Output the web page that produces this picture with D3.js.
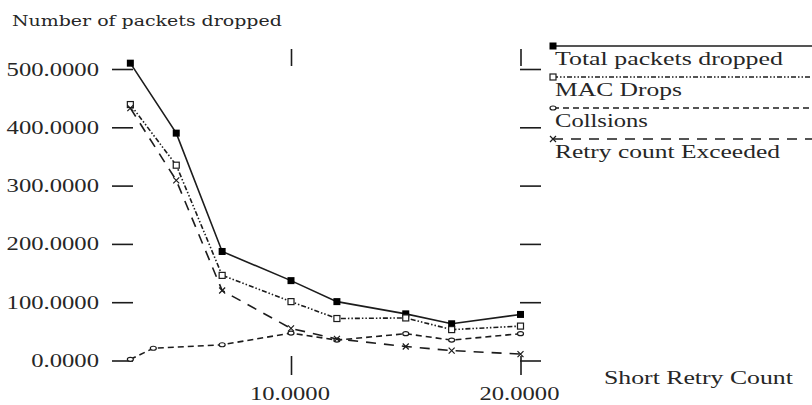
<!DOCTYPE html>
<html>
<head>
<meta charset="utf-8">
<script src="https://cdn.jsdelivr.net/npm/d3@7"></script>
<style>
  html, body { margin: 0; padding: 0; background: #fff; }
</style>
</head>
<body>
<svg id="draw" width="812" height="405"></svg>
<script>
// values
let xShort = [3, 5, 7, 10, 12, 15, 17, 20];
let xColl = [3, 4, 7, 10, 12, 15, 17, 20];
let totalDropped = [510, 390, 187, 137, 101, 80, 63, 79];
let macDrops = [439, 335, 146, 101, 72, 73, 53, 59];
let collisions = [2, 21, 27, 47, 35, 46, 35, 46];
let retryExceeded = [433, 309, 120, 55, 37, 24, 17, 11];
let yTicks = [0, 100, 200, 300, 400, 500];
let xTicks = [10, 20];
let seriesNames = ["Total packets dropped", "MAC Drops", "Collsions", "Retry count Exceeded"];

let ink = "#1c1c1c";
let serif = "'Liberation Serif', Tinos, 'DejaVu Serif', 'Noto Serif', FreeSerif, 'Times New Roman', Times, serif";
let svg = d3.select("#draw");

let x = d3.scaleLinear().domain([10, 20]).range([291, 520.5]);
let y = d3.scaleLinear().domain([0, 500]).range([360.5, 69]);

// stretched serif text, scaled horizontally to the wanted width
function label(px, py, txt, w, anchor, size, family) {
    let g = svg.append("g");
    let t = g.append("text")
        .attr("text-anchor", anchor || "start")
        .attr("font-family", family || serif)
        .attr("font-size", size || 19)
        .attr("fill", "#262626")
        .text(txt);
    let k = w / t.node().getComputedTextLength();
    g.attr("transform", "translate(" + px + "," + py + ") scale(" + k + ",1)");
    return t;
}

// axes, ticks only
function tickAxis(axis, tf) {
    let g = svg.append("g").attr("transform", tf).call(axis);
    g.select(".domain").remove();
    g.selectAll("line").attr("stroke", ink).attr("stroke-width", 1.6);
    g.selectAll("text").remove();
}
tickAxis(d3.axisLeft(y).tickValues(yTicks).tickSize(21).tickFormat(""), "translate(133,0)");
tickAxis(d3.axisRight(y).tickValues(yTicks).tickSize(21).tickFormat(""), "translate(520,0)");
tickAxis(d3.axisBottom(x).tickValues(xTicks).tickSize(19).tickFormat(""), "translate(0,356)");
tickAxis(d3.axisTop(x).tickValues(xTicks).tickSize(17).tickFormat(""), "translate(0,66)");

yTicks.forEach(v => {
    let s = d3.format(".4f")(v);
    label(99, y(v) + 6.5, s, s.length * 12.3 - 6, "end");
});
xTicks.forEach(v => {
    let s = d3.format(".4f")(v);
    label(x(v) - 1, 400, s, 80, "middle");
});

label(12, 26, "Number of packets dropped", 270, "start", 15, "'DejaVu Serif', " + serif);
label(604, 384, "Short Retry Count", 189, "start");

let series = [
    { name: seriesNames[0], xs: xShort, ys: totalDropped, dash: null, marker: "fsquare" },
    { name: seriesNames[1], xs: xShort, ys: macDrops, dash: "5,2,1.5,2,1.5,2", marker: "osquare" },
    { name: seriesNames[2], xs: xColl, ys: collisions, dash: "6,4", marker: "circle" },
    { name: seriesNames[3], xs: xShort, ys: retryExceeded, dash: "10,8", marker: "cross" }
];

let line = d3.line().x(d => x(d[0])).y(d => y(d[1]));

function marker(g, type, cx, cy) {
    if(type == "fsquare")
        g.append("rect").attr("x", cx - 3.5).attr("y", cy - 3.5).attr("width", 7).attr("height", 7)
            .attr("fill", "#000");
    else if(type == "osquare")
        g.append("rect").attr("x", cx - 3).attr("y", cy - 3).attr("width", 6).attr("height", 6)
            .attr("fill", "#fff").attr("stroke", ink).attr("stroke-width", 1.2);
    else if(type == "circle")
        g.append("ellipse").attr("cx", cx).attr("cy", cy).attr("rx", 3).attr("ry", 2)
            .attr("fill", "#fff").attr("stroke", ink).attr("stroke-width", 1.2);
    else
        g.append("path").attr("d", "M" + (cx - 3) + "," + (cy - 3) + "L" + (cx + 3) + "," + (cy + 3)
            + "M" + (cx + 3) + "," + (cy - 3) + "L" + (cx - 3) + "," + (cy + 3))
            .attr("stroke", ink).attr("stroke-width", 1.2);
}

series.forEach(s => {
    let pts = s.xs.map((v, i) => [v, s.ys[i]]);
    svg.append("path")
        .attr("d", line(pts))
        .attr("fill", "none")
        .attr("stroke", ink)
        .attr("stroke-width", 1.6)
        .attr("stroke-dasharray", s.dash);
    let mg = svg.append("g");
    pts.forEach(p => marker(mg, s.marker, x(p[0]), y(p[1])));
});

// legend
let legendY = [46, 77, 108, 139];
let legendW = [228, 127, 93, 225];
series.forEach((s, i) => {
    svg.append("line")
        .attr("x1", 553).attr("x2", 812)
        .attr("y1", legendY[i]).attr("y2", legendY[i])
        .attr("stroke", ink)
        .attr("stroke-width", 1.6)
        .attr("stroke-dasharray", s.dash);
    marker(svg, s.marker, 553, legendY[i]);
    label(555, legendY[i] + 19, s.name, legendW[i], "start");
});
</script>
</body>
</html>
